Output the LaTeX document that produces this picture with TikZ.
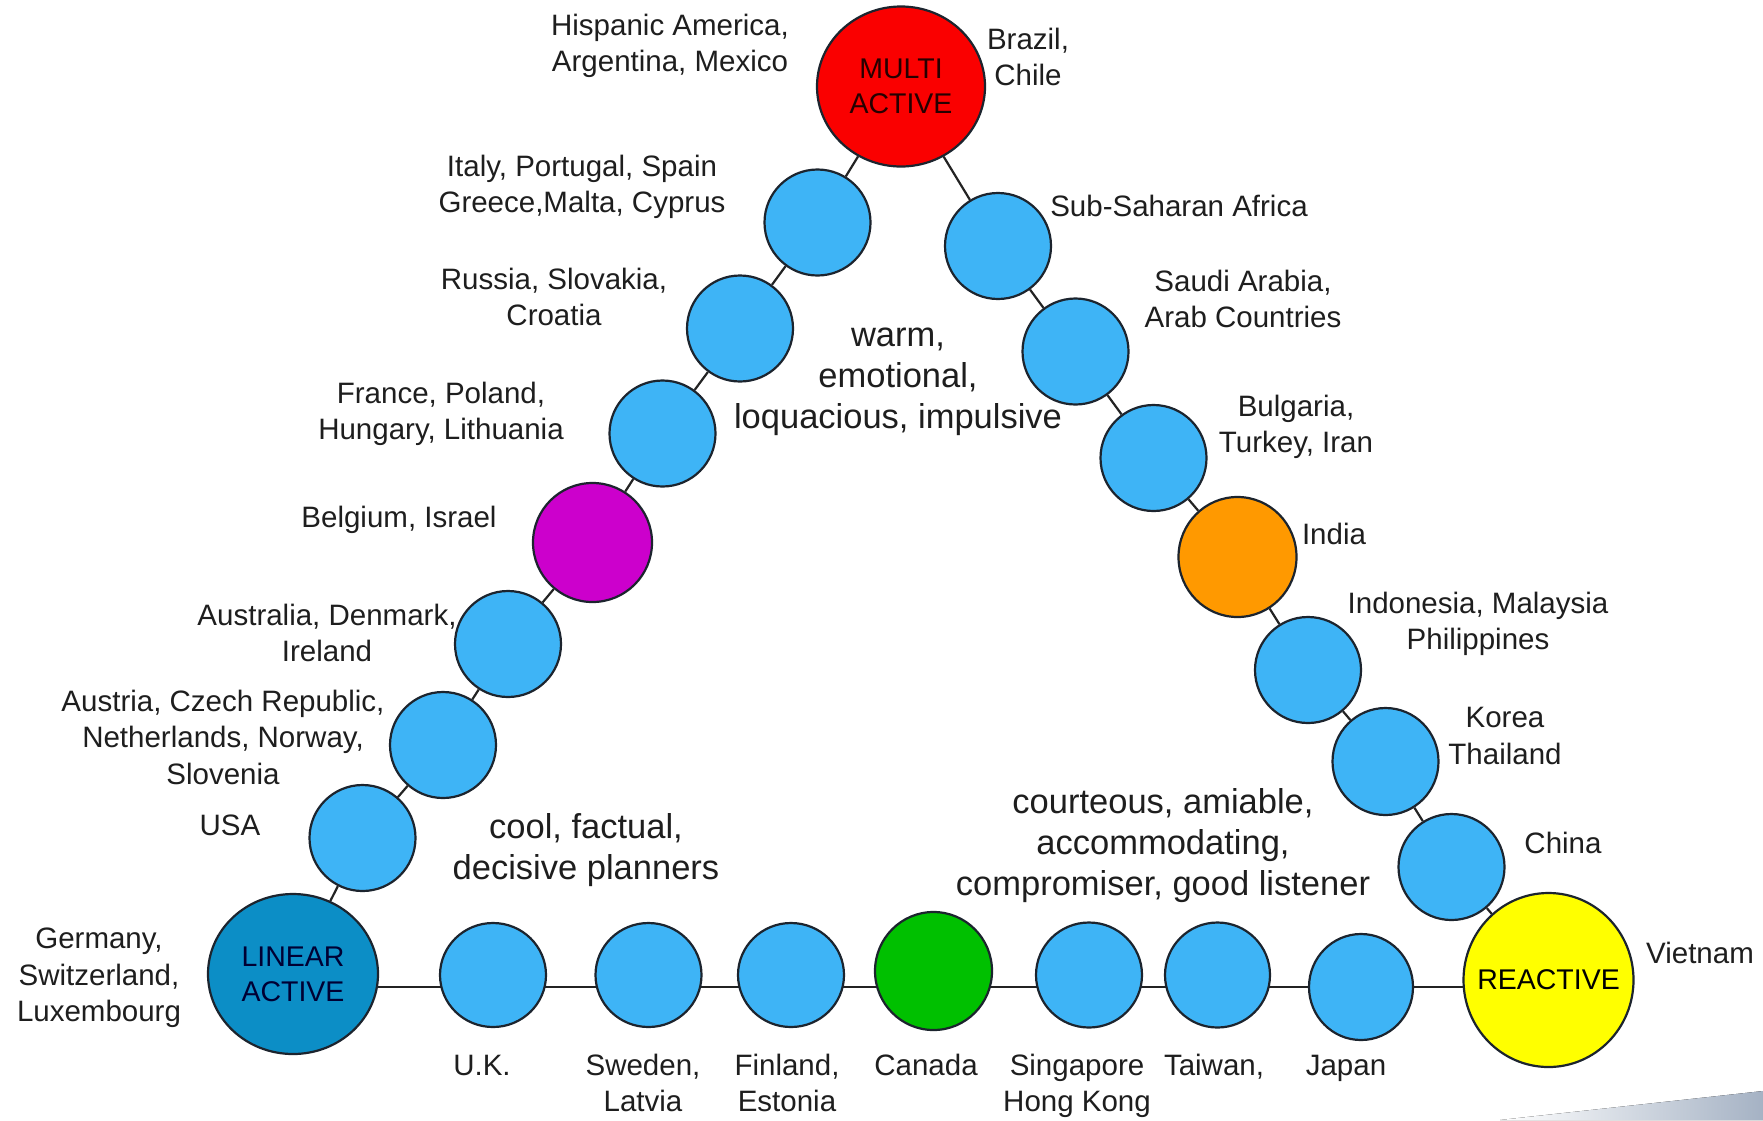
\documentclass[tikz,border=0pt]{standalone}
\usepackage{fontspec}
\setmainfont{Liberation Sans}
\usetikzlibrary{shapes.geometric,backgrounds}
\definecolor{bl}{RGB}{62,180,246}
\definecolor{linblue}{RGB}{12,142,198}
\definecolor{mred}{RGB}{250,0,0}
\definecolor{purp}{RGB}{204,0,204}
\definecolor{orng}{RGB}{255,153,0}
\definecolor{grn}{RGB}{0,192,0}
\definecolor{yel}{RGB}{255,255,0}
\definecolor{edgec}{RGB}{28,36,46}
\definecolor{txt}{RGB}{30,30,30}
\definecolor{linec}{RGB}{35,35,35}
\definecolor{greyc}{RGB}{165,178,196}
\begin{document}
\begin{tikzpicture}[x=1pt,y=-1pt,
  dot/.style={ellipse, draw=edgec, line width=2.2pt, inner sep=0pt, fill=bl,
    minimum width=106pt, minimum height=106pt},
  ctry/.style={text=txt, font=\fontsize{29.5}{36.5}\selectfont, align=center, inner sep=0pt},
  trait/.style={text=txt, font=\fontsize{34.5}{41}\selectfont, align=center, inner sep=0pt},
  biglab/.style={text=#1, font=\fontsize{28.5}{35}\selectfont, align=center, inner sep=0pt},
  link/.style={line width=2.2pt, draw=linec}]
\useasboundingbox (0,0) rectangle (1763,1120);

% main circles
\node[dot, fill=mred, minimum width=168pt, minimum height=160pt,
  label={[biglab={black!85!red}]center:MULTI\\ACTIVE}] (multi) at (901,86.5) {};
\node[dot, fill=linblue, minimum width=170pt, minimum height=160pt,
  label={[biglab={black!80!blue}]center:LINEAR\\ACTIVE}] (lin) at (293,974) {};
\node[dot, fill=yel, minimum width=170pt, minimum height=174pt,
  label={[biglab=black]center:REACTIVE}] (reac) at (1548.5,980) {};

% left side
\node[dot] (ita) at (817.5,222.5) {};
\node[dot] (rus) at (740,328.5) {};
\node[dot] (fra) at (662.5,433.5) {};
\node[dot, fill=purp, minimum width=119pt, minimum height=119pt] (bel) at (592.5,542.5) {};
\node[dot] (aus) at (508,644) {};
\node[dot] (aut) at (443,745) {};
\node[dot] (usa) at (362.5,838) {};

% right side
\node[dot] (ssa) at (998,246) {};
\node[dot] (sau) at (1075.5,351.5) {};
\node[dot] (bul) at (1153.5,458) {};
\node[dot, fill=orng, minimum width=118pt, minimum height=120pt] (ind) at (1237.5,557) {};
\node[dot] (ido) at (1308,670) {};
\node[dot, minimum height=107pt] (kor) at (1385.5,761.5) {};
\node[dot] (chn) at (1451.5,867) {};

% bottom
\node[dot, minimum height=104pt] (uk) at (493,975) {};
\node[dot, minimum height=104pt] (swe) at (648.5,975) {};
\node[dot, minimum height=104pt] (fin) at (791,975) {};
\node[dot, fill=grn, minimum width=117pt, minimum height=118pt] (can) at (933.5,971) {};
\node[dot, minimum height=105pt] (sgp) at (1089,975) {};
\node[dot, minimum width=105pt, minimum height=105pt] (twn) at (1217.5,975) {};
\node[dot, minimum width=104pt] (jpn) at (1361,987) {};

\coordinate (base) at (0,987);

\begin{pgfonlayer}{background}
  \fill[white] (0,0) rectangle (1763,1120);
  \fill[left color=white, right color=greyc] (1500,1120) -- (1763,1091) -- (1763,1120) -- cycle;
  \foreach \a/\b in {multi/ita, ita/rus, rus/fra, fra/bel, bel/aus, aus/aut, aut/usa, usa/lin,
                     multi/ssa, ssa/sau, sau/bul, bul/ind, ind/ido, ido/kor, kor/chn, chn/reac}
    \draw[link] (\a) -- (\b);
  \foreach \a/\b in {lin/uk, uk/swe, swe/fin, fin/can, can/sgp, sgp/twn, twn/jpn, jpn/reac}
    \draw[link] (\a |- base) -- (\b |- base);
\end{pgfonlayer}

% country labels
\node[ctry] (l-his) at (670,46) {Hispanic America,\\Argentina, Mexico};
\node[ctry] (l-bra) at (1028,57) {Brazil,\\Chile};
\node[ctry] (l-ita) at (582,187) {Italy, Portugal, Spain\\Greece,Malta, Cyprus};
\node[ctry] (l-rus) at (554,297) {Russia, Slovakia,\\Croatia};
\node[ctry] (l-fra) at (441,414) {France, Poland,\\Hungary, Lithuania};
\node[ctry] (l-bel) at (399,520) {Belgium, Israel};
\node[ctry] (l-aus) at (327,633) {Australia, Denmark,\\Ireland};
\node[ctry] (l-aut) at (223,737) {Austria, Czech Republic,\\Netherlands, Norway,\\Slovenia};
\node[ctry] (l-usa) at (230,825) {USA};
\node[ctry] (l-ger) at (99,978) {Germany,\\Switzerland,\\Luxembourg};

\node[ctry] (l-ssa) at (1179,206) {Sub-Saharan Africa};
\node[ctry] (l-sau) at (1243,299) {Saudi Arabia,\\Arab Countries};
\node[ctry] (l-bul) at (1296,427) {Bulgaria,\\Turkey, Iran};
\node[ctry] (l-ind) at (1334,534) {India};
\node[ctry] (l-ido) at (1478,624) {Indonesia, Malaysia\\Philippines};
\node[ctry] (l-kor) at (1505,736) {Korea\\Thailand};
\node[ctry] (l-chn) at (1563,843) {China};
\node[ctry] (l-vie) at (1700,953) {Vietnam};

\node[ctry, anchor=base] (l-uk) at (482,1075) {U.K.};
\node[ctry, anchor=base] (l-swe) at (643,1111.5) {Sweden,\\Latvia};
\node[ctry, anchor=base] (l-fin) at (787,1111.5) {Finland,\\Estonia};
\node[ctry, anchor=base] (l-can) at (926,1075) {Canada};
\node[ctry, anchor=base] (l-sgp) at (1077,1111.5) {Singapore\\Hong Kong};
\node[ctry, anchor=base] (l-twn) at (1214,1075) {Taiwan,};
\node[ctry, anchor=base] (l-jpn) at (1346,1075) {Japan};

% traits
\node[trait] (t-multi) at (898,382) {warm,\\emotional,\\loquacious, impulsive};
\node[trait] (t-lin) at (586,850) {cool, factual,\\decisive planners};
\node[trait] (t-reac) at (1163,846) {courteous, amiable,\\accommodating,\\compromiser, good listener};
\end{tikzpicture}
\end{document}
